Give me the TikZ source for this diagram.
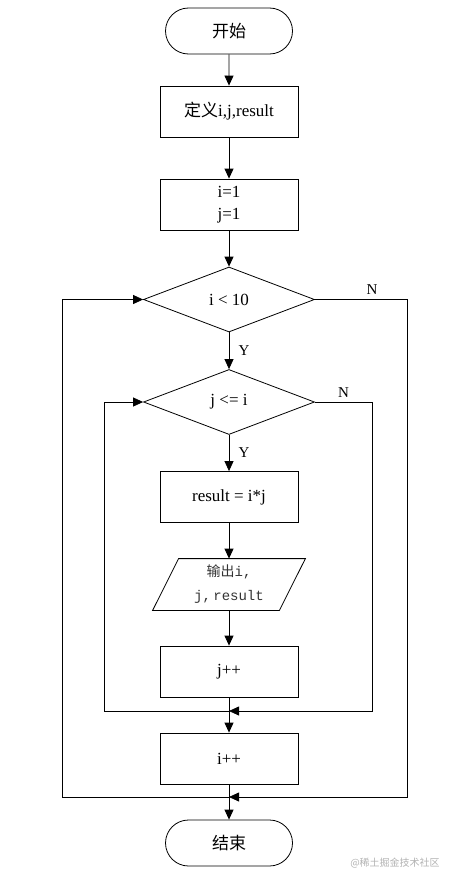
\documentclass[tikz,border=0pt]{standalone}
\usepackage{fontspec}
\setmainfont{Liberation Serif}
\newfontfamily\cjk{Noto Sans CJK SC}
\newfontfamily\monof{Liberation Mono}
\usetikzlibrary{shapes.geometric,shapes.misc,arrows.meta,calc}
\begin{document}
\begin{tikzpicture}[x=1pt,y=-1pt,line width=0.8pt,
 every node/.style={font=\fontsize{17}{22}\selectfont},
 term/.style={draw,rounded rectangle,minimum width=127pt,minimum height=46pt,inner sep=0pt},
 proc/.style={draw,rectangle,minimum width=138pt,minimum height=51pt,inner sep=0pt,align=center},
 dec/.style={draw,diamond,minimum width=171pt,minimum height=65pt,inner sep=0pt,aspect=2.6},
 arr/.style={-{Triangle[length=10pt,width=9pt]}},
 lab/.style={font=\fontsize{15}{17}\selectfont}]
\useasboundingbox (0,0) rectangle (453,883);
\node[term] (start) at (229,31) {\cjk 开始};
\node[proc] (def) at (229,111.5) {{\cjk 定义}i,j,result};
\node[proc] (init) at (229,204.5) {i=1\\j=1};
\node[dec] (d1) at (229,299.5) {i < 10};
\node[dec] (d2) at (229,402) {j <= i};
\node[proc] (res) at (229,497) {result = i*j};
\node[minimum width=126pt,minimum height=51pt,inner sep=0pt,align=center,font=\monof\fontsize{14}{24}\selectfont,text=black!80] (out) at (229,584.5) {{\cjk 输出}i,\\j,\,result};
\draw ($(out.south west)+(-13,0)$) -- ($(out.north west)+(13,0)$) -- ($(out.north east)+(13,0)$) -- ($(out.south east)+(-13,0)$) -- cycle;
\node[proc] (jpp) at (229,671.5) {j++};
\node[proc] (ipp) at (229,758.5) {i++};
\node[term] (end) at (229,843) {\cjk 结束};
\coordinate (m1) at (229,711);
\coordinate (m2) at (229,797);
\node[font=\cjk\fontsize{10}{12}\selectfont,text=gray!60] (wm) at (395,863) {@稀土掘金技术社区};
\draw[arr] (start) -- (def);
\draw[arr] (def) -- (init);
\draw[arr] (init) -- (d1);
\draw[arr] (d1) -- node[lab,right=6pt]{Y} (d2);
\draw[arr] (d2) -- node[lab,right=6pt]{Y} (res);
\draw[arr] (res) -- (out);
\draw[arr] (out) -- (jpp);
\draw (jpp) -- (m1);
\draw[arr] (m1) -- (ipp);
\draw[arr] (d2.east) -- node[lab,above=1pt]{N} (372,402) |- (m1);
\draw[arr] (m1) -| (104,402) -- (d2.west);
\draw (ipp) -- (m2);
\draw[arr] (m2) -- (end);
\draw[arr] (d1.east) -- node[lab,above=1pt,pos=0.62]{N} (407,299.5) |- (m2);
\draw[arr] (m2) -| (62,299.5) -- (d1.west);
\end{tikzpicture}
\end{document}
